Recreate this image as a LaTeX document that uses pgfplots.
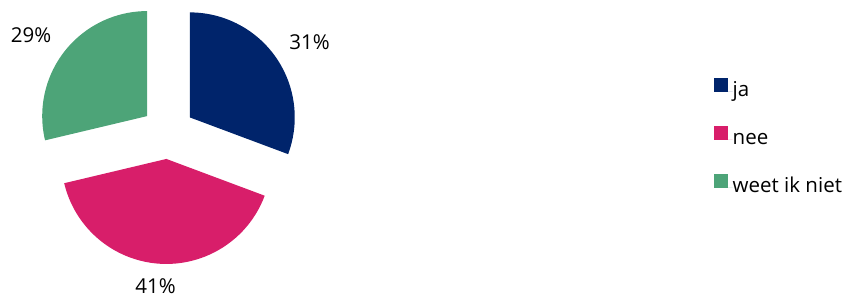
\documentclass[border=0pt]{standalone}
\usepackage{pgfplots}
\pgfplotsset{compat=1.18}
\usepackage{fontspec}
\setmainfont{Open Sans}
\definecolor{cja}{RGB}{0,36,107}
\definecolor{cnee}{RGB}{216,30,106}
\definecolor{cweet}{RGB}{77,164,120}
% values (percent)
\def\vja{31}\def\vnee{41}\def\vweet{29}
\pgfmathsetmacro{\tot}{\vja+\vnee+\vweet}
\pgfmathsetmacro{\aA}{90}
\pgfmathsetmacro{\aB}{\aA-360*\vja/\tot}
\pgfmathsetmacro{\aC}{\aB-360*\vnee/\tot}
\pgfmathsetmacro{\aD}{\aC-360*\vweet/\tot}
\pgfmathsetmacro{\mA}{(\aA+\aB)/2}
\pgfmathsetmacro{\mB}{(\aB+\aC)/2}
\pgfmathsetmacro{\mC}{(\aC+\aD)/2}
\begin{document}%
\begin{tikzpicture}[font=\fontsize{20.5bp}{24bp}\selectfont]
\begin{axis}[
  scale only axis, width=851bp, height=296bp,
  xmin=0, xmax=851, ymin=0, ymax=296,
  hide axis, clip=false,
  legend style={at={(axis cs:714,218)}, anchor=north west, draw=none, fill=none,
    inner sep=0pt, row sep=25bp, cells={anchor=west},
    nodes={inner sep=0pt, text height=15bp, text depth=5bp},
    font=\fontsize{20.5bp}{24bp}\selectfont},
  legend image code/.code={\fill[#1] (0bp,-0.5bp) rectangle (13.5bp,13bp);\path (0,0) -- (18.5bp,0);},
]
\path (axis cs:0,0) rectangle (axis cs:851,296);
\fill[cja, shift={(\mA:26.5bp)}] (axis cs:168,163.5) -- +(\aA:105bp) arc[start angle=\aA, end angle=\aB, radius=105bp] -- cycle;
\fill[cnee, shift={(\mB:26.5bp)}] (axis cs:168,163.5) -- +(\aB:105bp) arc[start angle=\aB, end angle=\aC, radius=105bp] -- cycle;
\fill[cweet, shift={(\mC:26.5bp)}] (axis cs:168,163.5) -- +(\aC:105bp) arc[start angle=\aC, end angle=\aD, radius=105bp] -- cycle;
\node[anchor=base, inner sep=0pt] at (axis cs:309.5,246) {31\%};
\node[anchor=base, inner sep=0pt] at (axis cs:155.5,3) {41\%};
\node[anchor=base, inner sep=0pt] at (axis cs:31,253) {29\%};
\addlegendimage{fill=cja, draw=none}
\addlegendentry{ja}
\addlegendimage{fill=cnee, draw=none}
\addlegendentry{nee}
\addlegendimage{fill=cweet, draw=none}
\addlegendentry{weet ik niet}
\end{axis}
\end{tikzpicture}%
\end{document}
